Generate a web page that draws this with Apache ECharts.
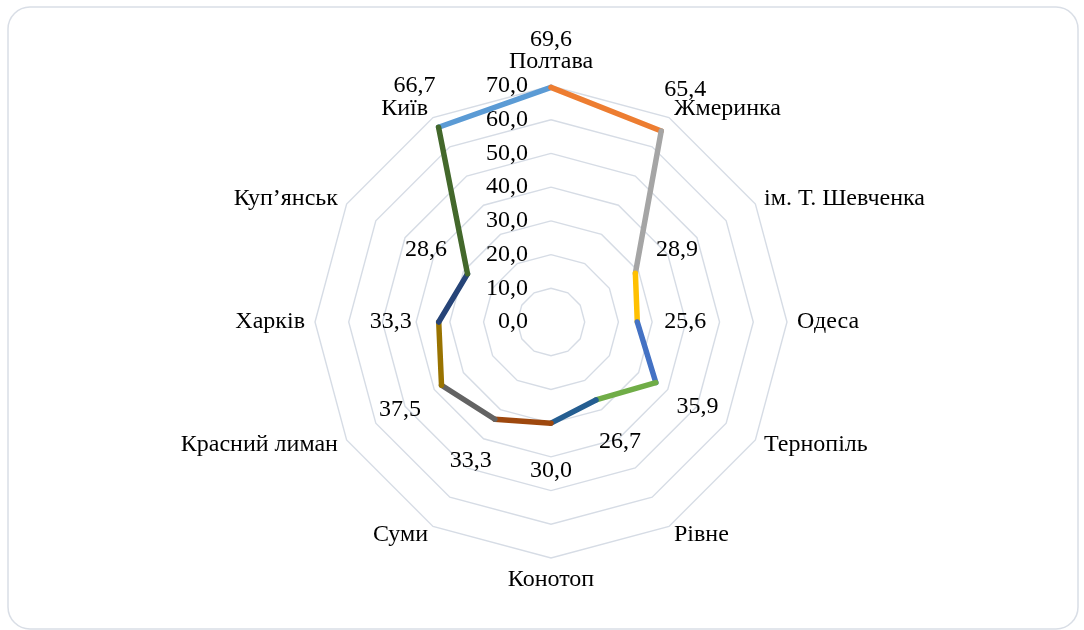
<!DOCTYPE html>
<html><head><meta charset="utf-8">
<script src="https://cdn.jsdelivr.net/npm/echarts@6/dist/echarts.min.js"></script>
<style>html,body{margin:0;padding:0;background:#fff}#c{width:1084px;height:630px}</style>
</head><body><div id="c"></div>
<script>
// ---- data ----
const categories = ['Полтава','Жмеринка','ім. Т. Шевченка','Одеса','Тернопіль','Рівне','Конотоп','Суми','Красний лиман','Харків','Куп’янськ','Київ'];
const values = [69.6, 65.4, 28.9, 25.6, 35.9, 26.7, 30.0, 33.3, 37.5, 33.3, 28.6, 66.7];
// segment k joins category k-1 -> k (segment 0: Київ -> Полтава)
const segmentColors = ['#5B9BD5','#ED7D31','#A5A5A5','#FFC000','#4472C4','#70AD47','#255E91','#9E480E','#636363','#997300','#264478','#43682B'];
const axisMin = 0, axisMax = 70, axisSplits = 7;

// ---- layout/style ----
const CX = 551, CY = 322, R = 236;
const FONT = 'Liberation Serif';
const FS = 24, FS_NAME = 24;
const n = categories.length;
const fmt = v => v.toFixed(1).replace('.', ',');

// radar indicators listed counter-clockwise (ECharts radar order) so names land clockwise
const radarOrder = [0].concat(Array.from({length: n - 1}, (_, k) => n - 1 - k));
const indicators = radarOrder.map((idx, j) => {
  const o = {name: categories[idx], min: axisMin, max: axisMax};
  if (j === 0) o.axisLabel = {show: true};
  return o;
});

const series = [];
for (let k = 0; k < n; k++) {
  const a = (k - 1 + n) % n;
  series.push({
    type: 'line', coordinateSystem: 'polar', silent: true,
    data: [[values[a], a], [values[k], k]],
    symbol: 'none',
    lineStyle: {color: segmentColors[k], width: 5.5, cap: 'round', join: 'round'},
    z: 3 + k
  });
}
const LOFF = 48;
series.push({
  type: 'scatter', coordinateSystem: 'polar', silent: true,
  symbolSize: 0, itemStyle: {color: '#000', opacity: 0},
  data: values.map((v, i) => {
    const t = i * 2 * Math.PI / n;
    return {value: [v, i], label: {offset: [LOFF * Math.sin(t), -LOFF * Math.cos(t)]}};
  }),
  label: {show: true, position: 'inside', color: '#000', opacity: 1,
    textBorderWidth: 0, textBorderColor: 'transparent',
    fontFamily: FONT, fontSize: FS,
    formatter: p => fmt(p.value[0])},
  z: 30
});

// polar overlay: a little extra radial room so nothing near 70 gets clipped
const polarMax = 80;
const chart = echarts.init(document.getElementById('c'), null, {renderer: 'canvas'});
chart.setOption({
  animation: false,
  backgroundColor: '#fff',
  graphic: [{type: 'rect', silent: true, z: -10,
    shape: {x: 8, y: 7, width: 1070, height: 622, r: 22},
    style: {fill: 'none', stroke: '#D9DEE6', lineWidth: 1.5}}],
  radar: {
    center: [CX, CY], radius: R, startAngle: 90, shape: 'polygon', splitNumber: axisSplits,
    indicator: indicators,
    nameGap: 10,
    axisName: {color: '#000', fontFamily: FONT, fontSize: FS_NAME},
    splitLine: {lineStyle: {color: '#D6DCE5', width: 1.4}},
    splitArea: {show: false},
    axisLine: {show: false},
    axisTick: {show: false},
    axisLabel: {show: false, color: '#000', fontFamily: FONT, fontSize: FS, margin: 23,
      formatter: v => fmt(v)}
  },
  polar: {center: [CX, CY], radius: R * polarMax / axisMax},
  angleAxis: {type: 'category', data: categories, startAngle: 90 + 180 / n, clockwise: true, boundaryGap: true, show: false},
  radiusAxis: {min: axisMin, max: polarMax, show: false},
  series: series
});
</script></body></html>
